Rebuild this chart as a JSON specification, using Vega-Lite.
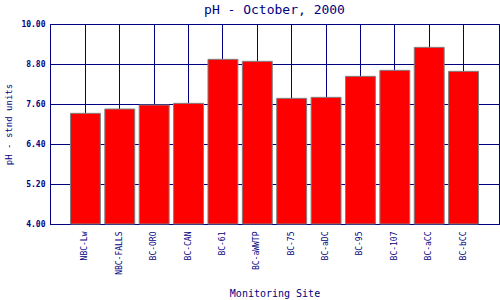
{
  "$schema": "https://vega.github.io/schema/vega-lite/v6.json",
  "width": 449,
  "height": 200,
  "autosize": {"type": "none"},
  "padding": {"left": 50, "top": 24, "right": 1, "bottom": 76},
  "background": "white",
  "title": {
    "text": "pH - October, 2000",
    "font": "DejaVu Sans Mono",
    "fontSize": 13,
    "fontWeight": "normal",
    "color": "#000080",
    "offset": 3
  },
  "config": {"view": {"stroke": "#000080", "strokeWidth": 1}},
  "data": {
    "values": [
      {"site": "NBC-Lw", "ph": 7.32},
      {"site": "NBC-FALLS", "ph": 7.45},
      {"site": "BC-ORO", "ph": 7.57},
      {"site": "BC-CAN", "ph": 7.62},
      {"site": "BC-61", "ph": 8.94},
      {"site": "BC-aWWTP", "ph": 8.88},
      {"site": "BC-75", "ph": 7.77},
      {"site": "BC-aDC", "ph": 7.80},
      {"site": "BC-95", "ph": 8.43},
      {"site": "BC-107", "ph": 8.61},
      {"site": "BC-aCC", "ph": 9.30},
      {"site": "BC-bCC", "ph": 8.58}
    ]
  },
  "mark": {"type": "bar", "color": "#FF0000", "stroke": "#808080", "strokeWidth": 1},
  "encoding": {
    "x": {
      "field": "site",
      "type": "nominal",
      "sort": null,
      "scale": {"paddingInner": 0.13, "paddingOuter": 0.595},
      "axis": {
        "title": "Monitoring Site",
        "labelAngle": -90,
        "labelFont": "DejaVu Sans Mono",
        "labelFontSize": 8,
        "labelColor": "#000080",
        "ticks": false,
        "labelPadding": 7,
        "grid": true,
        "gridColor": "#000080",
        "gridOpacity": 1,
        "gridWidth": 1,
        "bandPosition": 0.5,
        "domainColor": "#000080",
        "titleFont": "DejaVu Sans Mono",
        "titleFontSize": 10,
        "titleFontWeight": "normal",
        "titleColor": "#000080",
        "titlePadding": 14
      }
    },
    "y": {
      "field": "ph",
      "type": "quantitative",
      "scale": {"domain": [4, 10], "nice": false, "zero": false},
      "axis": {
        "title": "pH - stnd units",
        "values": [4, 5.2, 6.4, 7.6, 8.8, 10],
        "format": ".2f",
        "labelFont": "DejaVu Sans Mono",
        "labelFontSize": 8,
        "labelFontWeight": "bold",
        "labelColor": "#000080",
        "ticks": false,
        "labelPadding": 5,
        "grid": true,
        "gridColor": "#000080",
        "gridOpacity": 1,
        "gridWidth": 1,
        "domainColor": "#000080",
        "titleFont": "DejaVu Sans Mono",
        "titleFontSize": 9,
        "titleFontWeight": "normal",
        "titleColor": "#000080",
        "titlePadding": 7
      }
    },
    "y2": {"datum": 4}
  }
}
